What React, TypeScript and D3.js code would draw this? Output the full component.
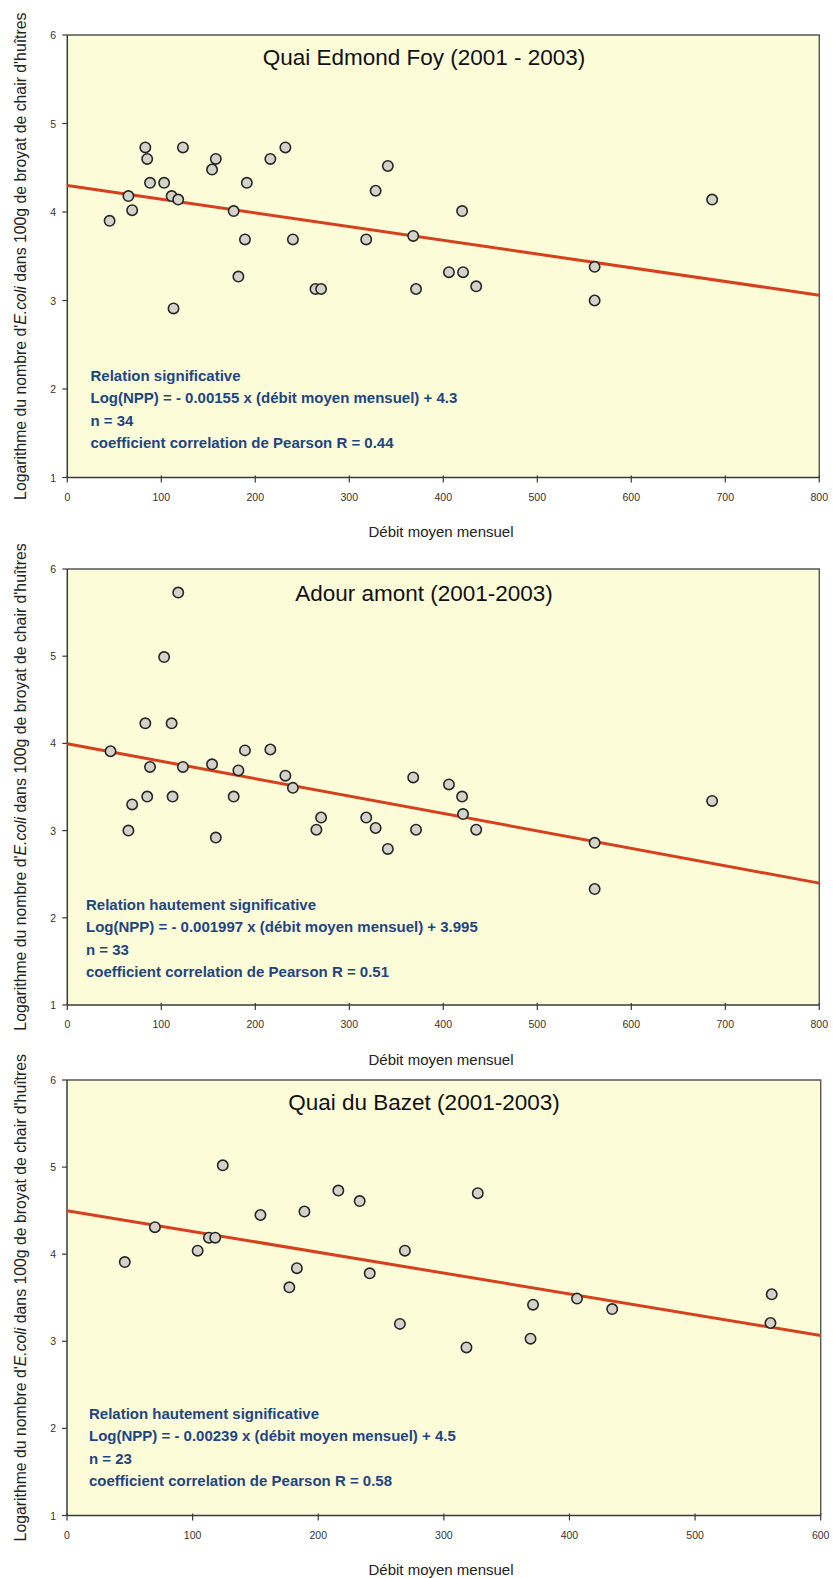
import React from "react";
import * as d3 from "d3";

const FONT = "Arial, 'Liberation Sans', Helvetica, sans-serif";

// Quai Edmond Foy (2001 - 2003)
const foyDebit = [45, 65, 69, 83, 85, 88, 103, 111, 118, 123, 154, 158, 177, 189, 191, 216, 232, 240, 318, 328, 341, 368, 420, 686, 113, 182, 264, 270, 371, 406, 421, 435, 561, 561];
const foyLog = [3.9, 4.18, 4.02, 4.73, 4.6, 4.33, 4.33, 4.18, 4.14, 4.73, 4.48, 4.6, 4.01, 3.69, 4.33, 4.6, 4.73, 3.69, 3.69, 4.24, 4.52, 3.73, 4.01, 4.14, 2.91, 3.27, 3.13, 3.13, 3.13, 3.32, 3.32, 3.16, 3.38, 3.0];

// Adour amont (2001-2003)
const adourDebit = [118, 103, 83, 111, 46, 88, 123, 154, 182, 189, 216, 232, 368, 240, 65, 69, 85, 112, 177, 158, 265, 270, 318, 328, 341, 371, 406, 420, 421, 435, 561, 561, 686];
const adourLog = [5.73, 4.99, 4.23, 4.23, 3.91, 3.73, 3.73, 3.76, 3.69, 3.92, 3.93, 3.63, 3.61, 3.49, 3.0, 3.3, 3.39, 3.39, 3.39, 2.92, 3.01, 3.15, 3.15, 3.03, 2.79, 3.01, 3.53, 3.39, 3.19, 3.01, 2.86, 2.33, 3.34];

// Quai du Bazet (2001-2003)
const bazetDebit = [46, 70, 104, 113, 118, 124, 154, 177, 183, 189, 216, 233, 241, 269, 327, 561, 371, 406, 434, 265, 560, 318, 369];
const bazetLog = [3.91, 4.31, 4.04, 4.19, 4.19, 5.02, 4.45, 3.62, 3.84, 4.49, 4.73, 4.61, 3.78, 4.04, 4.7, 3.54, 3.42, 3.49, 3.37, 3.2, 3.21, 2.93, 3.03];

const titles = ["Quai Edmond Foy (2001 - 2003)", "Adour amont (2001-2003)", "Quai du Bazet (2001-2003)"];
const slopes = [0.00155, 0.001997, 0.00239];
const intercepts = [4.3, 3.995, 4.5];
const counts = [34, 33, 23];
const pearsonR = ["0.44", "0.51", "0.58"];
const relations = ["Relation significative", "Relation hautement significative", "Relation hautement significative"];
const xMax = [800, 800, 600];
const yTicks = [1, 2, 3, 4, 5, 6];

type Box = { left: number; right: number; top: number; bottom: number; noteX: number; noteY: number; titleY: number };
const boxes: Box[] = [
  { left: 67.3, right: 819.3, top: 35, bottom: 477.5, noteX: 90.5, noteY: 380.7, titleY: 65 },
  { left: 67.3, right: 819.3, top: 569, bottom: 1005, noteX: 86, noteY: 910, titleY: 600.5 },
  { left: 67, right: 820.7, top: 1080, bottom: 1515.5, noteX: 89, noteY: 1419, titleY: 1110 },
];

const series = [
  { x: foyDebit, y: foyLog },
  { x: adourDebit, y: adourLog },
  { x: bazetDebit, y: bazetLog },
];

function Panel({ i }: { i: number }) {
  const b = boxes[i];
  const xs = d3.scaleLinear().domain([0, xMax[i]]).range([b.left, b.right]);
  const ys = d3.scaleLinear().domain([1, 6]).range([b.bottom, b.top]);
  const xTicks = xs.ticks(xMax[i] / 100);
  const fit = (v: number) => intercepts[i] - slopes[i] * v;
  const line = d3
    .line<number>()
    .x((v) => xs(v))
    .y((v) => ys(fit(v)));
  const pts = series[i].x.map((v, k) => ({ x: v, y: series[i].y[k] }));
  const axisColor = "#3a3a3a";
  const midY = (b.top + b.bottom) / 2;
  const notes = [
    relations[i],
    `Log(NPP) = - ${slopes[i]} x (débit moyen mensuel) + ${intercepts[i]}`,
    `n = ${counts[i]}`,
    `coefficient correlation de Pearson R = ${pearsonR[i]}`,
  ];
  return (
    <g>
      <rect x={b.left} y={b.top} width={b.right - b.left} height={b.bottom - b.top} fill="#fdfcd9" />
      {/* frame */}
      <path d={`M${b.left},${b.top}H${b.right}V${b.bottom}`} fill="none" stroke="#555" strokeWidth={1.4} />
      <line x1={b.left} x2={b.left} y1={b.top} y2={b.bottom} stroke={axisColor} strokeWidth={1.5} />
      <line x1={b.left} x2={b.right} y1={b.bottom} y2={b.bottom} stroke={axisColor} strokeWidth={1.5} />
      {yTicks.map((t) => (
        <g key={"y" + t}>
          <line x1={b.left - 5} x2={b.left} y1={ys(t)} y2={ys(t)} stroke={axisColor} strokeWidth={1.2} />
          <text x={56} y={ys(t) + 4} textAnchor="end" fontSize={10.5} fill="#333" fontFamily={FONT}>
            {t}
          </text>
        </g>
      ))}
      {xTicks.map((t) => (
        <g key={"x" + t}>
          <line x1={xs(t)} x2={xs(t)} y1={b.bottom - 2} y2={b.bottom + 5} stroke={axisColor} strokeWidth={1.2} />
          <text x={xs(t)} y={b.bottom + 23} textAnchor="middle" fontSize={10.5} fill="#333" fontFamily={FONT}>
            {t}
          </text>
        </g>
      ))}
      <path d={line([0, xMax[i]]) || ""} fill="none" stroke="#d6401c" strokeWidth={3} />
      {pts.map((p, k) => (
        <circle key={k} cx={xs(p.x)} cy={ys(p.y)} r={5.2} fill="#d3d3cb" stroke="#262626" strokeWidth={1.6} />
      ))}
      <text x={424} y={b.titleY} textAnchor="middle" fontSize={22.5} fill="#111" fontFamily={FONT}>
        {titles[i]}
      </text>
      {notes.map((s, k) => (
        <text key={k} x={b.noteX} y={b.noteY + k * 22.4} fontSize={15} fontWeight="bold" fill="#1f4580" fontFamily={FONT}>
          {s}
        </text>
      ))}
      <text x={441} y={b.bottom + 59.5} textAnchor="middle" fontSize={15} fill="#222" fontFamily={FONT}>
        Débit moyen mensuel
      </text>
      <text
        transform={`translate(25.5,${midY}) rotate(-90)`}
        textAnchor="middle"
        fontSize={15.8}
        fill="#222"
        fontFamily={FONT}
      >
        Logarithme du nombre d'<tspan fontStyle="italic">E.coli</tspan> dans 100g de broyat de chair d'huîtres
      </text>
    </g>
  );
}

export default function App() {
  return (
    <>
      <style>{"body{margin:0;background:#fff}"}</style>
      <svg width={833} height={1578} style={{ display: "block" }}>
        <rect width={833} height={1578} fill="#fff" />
        {[0, 1, 2].map((i) => (
          <Panel key={i} i={i} />
        ))}
      </svg>
    </>
  );
}
